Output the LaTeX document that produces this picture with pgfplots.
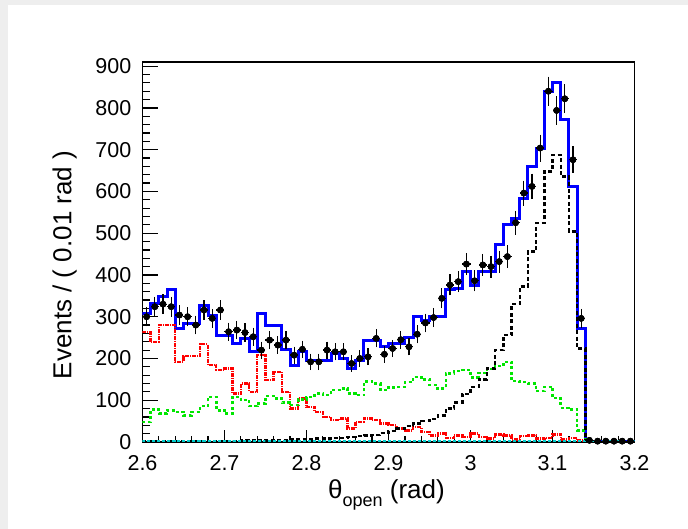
\documentclass[border=0pt]{standalone}
\usepackage{pgfplots}
\usepackage{pgfplotstable}
\pgfplotsset{compat=1.18}
\usepackage{fontspec}
\setmainfont{Liberation Sans}

\definecolor{fitblue}{RGB}{0,0,255}
\definecolor{bkgred}{RGB}{255,0,0}
\definecolor{bkggreen}{RGB}{0,230,0}
\definecolor{sigcyan}{RGB}{0,205,205}
\definecolor{pagegray}{RGB}{238,238,238}

% Stacked fit components, one row per 0.01 rad bin (left edge); last row closes the range
\pgfplotstableread{
x     tot  red  green blk  cyan
2.60  308  264  48    1    2
2.61  332  240  78    1    2
2.62  348  280  68    1    2
2.63  364  280  76    2    2
2.64  272  192  72    2    2
2.65  284  206  64    2    2
2.66  284  206  72    2    2
2.67  328  234  86    3    2
2.68  304  184  108   3    2
2.69  254  172  76    3    2
2.70  254  176  68    3    2
2.71  236  116  108   3    2
2.72  248  140  100   4    2
2.73  216  120  86    4    2
2.74  308  208  92    4    2
2.75  280  148  110   5    2
2.76  280  168  104   5    2
2.77  222  120  94    5    2
2.78  184  80   88    6    2
2.79  216  104  102   6    2
2.80  196  84   108   6    2
2.81  196  72   116   8    2
2.82  196  60   112   8    2
2.83  212  52   124   10   2
2.84  200  56   128   10   2
2.85  176  32   116   12   2
2.86  196  48   112   14   2
2.87  244  56   145   16   2
2.88  244  52   140   17   2
2.89  228  44   124   22   2
2.90  236  40   130   27   2
2.91  236  32   132   32   2
2.92  250  28   144   38   2
2.93  300  36   156   44   2
2.94  292  24   150   50   2
2.95  300  16   136   55   2
2.96  300  20   128   63   2
2.97  364  10   164   80   2
2.98  368  16   170   95   2
2.99  408  12   172   115  2
3.00  374  20   155   132  2
3.01  408  12   165   150  2
3.02  408  8    175   176  2
3.03  472  18   182   220  2
3.04  520  16   192   256  2
3.05  536  6    146   330  2
3.06  584  14   144   372  2
3.07  660  16   140   456  2
3.08  704  8    122   524  2
3.09  840  10   132   648  2
3.10  860  18   105   688  2
3.11  772  6    82    636  2
3.12  612  10   78    504  2
3.13  272  4    28    224  2
3.14  0    0    0     0    3
3.15  0    0    0     0    3
3.16  0    0    0     0    3
3.17  0    0    0     0    3
3.18  0    0    0     0    3
3.19  0    0    0     0    3
3.20  0    0    0     0    3
}\fittable

% Measured events per bin (bin centres)
\pgfplotstableread{
xc     n
2.605  300
2.615  324
2.625  330
2.635  324
2.645  304
2.655  300
2.665  280
2.675  316
2.685  296
2.695  316
2.705  264
2.715  268
2.725  262
2.735  252
2.745  220
2.755  244
2.765  232
2.775  244
2.785  208
2.795  222
2.805  192
2.815  192
2.825  220
2.835  216
2.845  216
2.855  188
2.865  200
2.875  204
2.885  248
2.895  210
2.905  224
2.915  245
2.925  228
2.935  258
2.945  285
2.955  298
2.965  344
2.975  376
2.985  384
2.995  426
3.005  386
3.015  424
3.025  420
3.035  432
3.045  444
3.055  525
3.065  596
3.075  612
3.085  704
3.095  840
3.105  794
3.115  822
3.125  676
3.135  296
3.145  4
3.155  2
3.165  2
3.175  2
3.185  2
3.195  2
}\datatable

\begin{document}
\begin{tikzpicture}[x=1pt,y=1pt]
% page background; the plot frame's lower-left corner is the origin
\fill[pagegray] (-142.5,-87) rectangle (545.5,442);
\fill[white] (-134.5,-87) rectangle (545.5,437);
\useasboundingbox (-142.5,-87) rectangle (545.5,442);

\begin{axis}[
  at={(0,0)}, anchor=south west,
  scale only axis, width=492pt, height=380pt,
  xmin=2.6, xmax=3.2, ymin=0, ymax=910,
  axis line style={line width=1.3pt, black},
  tick align=inside, xtick pos=bottom, ytick pos=left,
  xtick={2.6,2.7,2.8,2.9,3.0,3.1,3.2},
  xticklabels={2.6,2.7,2.8,2.9,3,3.1,3.2},
  ytick={0,100,200,300,400,500,600,700,800,900},
  minor x tick num=4, minor y tick num=4,
  major tick length=16pt, minor tick length=8pt,
  xtick style={line width=1.2pt, black, /pgfplots/major tick length=12pt, /pgfplots/minor tick length=6pt},
  ytick style={line width=1.2pt, black},
  /pgf/number format/assume math mode=true,
  yticklabel style={font=\fontsize{21.5}{24}\selectfont, anchor=east, inner sep=0pt, xshift=-11pt},
  xticklabel style={font=\fontsize{21.5}{24}\selectfont, anchor=north, inner sep=0pt, yshift=-13pt},
  scaled y ticks=false,
  clip=true,
]
% total fit
\addplot[const plot mark left, draw=fitblue, line width=3pt, line join=miter]
  table[x=x, y=tot] {\fittable};
% background components
\addplot[const plot mark left, draw=bkgred, line width=2.4pt, line join=miter,
         dash pattern=on 4pt off 1pt on 1pt off 1pt]
  table[x=x, y=red] {\fittable};
\addplot[const plot mark left, draw=bkggreen, line width=2.5pt, line join=miter,
         dash pattern=on 3pt off 2.5pt]
  table[x=x, y=green] {\fittable};
\addplot[const plot mark left, draw=black, line width=2.4pt, line join=miter,
         dash pattern=on 4pt off 2.5pt]
  table[x=x, y=blk] {\fittable};
\addplot[const plot mark left, draw=sigcyan, line width=1.6pt,
         dash pattern=on 3pt off 2pt]
  table[x=x, y=cyan] {\fittable};
% data: horizontal bin-width bars
\addplot[only marks, mark=*, mark size=3.1pt, black,
         error bars/.cd, x dir=both, x fixed=0.005, error mark=none,
         error bar style={line width=1.3pt, black}]
  table[x=xc, y=n] {\datatable};
% data: statistical errors with caps
\addplot[only marks, mark=*, mark size=3.1pt, black,
         error bars/.cd, y dir=both, y explicit,
         error bar style={line width=1.3pt, black},
         error mark options={black, mark size=2.4pt, line width=1.3pt}]
  table[x=xc, y=n, y error expr=sqrt(\thisrow{n})] {\datatable};
\end{axis}

% axis titles
\node[rotate=90, anchor=base, inner sep=0pt, font=\fontsize{26}{30}\selectfont]
  at (-71,177) {Events / ( 0.01 rad )};
\node[anchor=base, inner sep=0pt, font=\fontsize{26}{30}\selectfont]
  at (244,-57) {θ\raisebox{-0.3em}{\fontsize{18}{20}\selectfont open} (rad)};
\end{tikzpicture}
\end{document}
